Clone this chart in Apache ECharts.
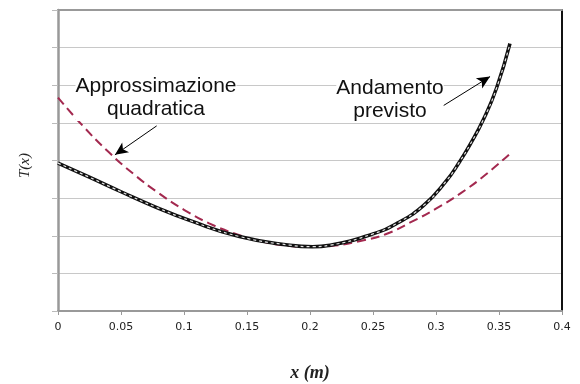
<!DOCTYPE html>
<html><head><meta charset="utf-8">
<script src="https://cdn.jsdelivr.net/npm/echarts@6/dist/echarts.min.js"></script>
<style>html,body{margin:0;padding:0;background:#fff}#c{width:580px;height:384px}</style>
</head><body><div id="c"></div>
<script>
// Data (y in gridline units, 0..8)
var xTicks = [0, 0.05, 0.1, 0.15, 0.2, 0.25, 0.3, 0.35, 0.4];
var previstoX = [0, 0.024, 0.05, 0.077, 0.105, 0.144, 0.184, 0.202, 0.216, 0.25, 0.269, 0.29, 0.308, 0.319, 0.327, 0.3375, 0.348, 0.3587];
var previstoT = [3.93, 3.57, 3.17, 2.77, 2.40, 1.98, 1.75, 1.71, 1.75, 2.05, 2.33, 2.80, 3.45, 3.98, 4.42, 5.08, 5.92, 7.11];
var quadX = [0, 0.02, 0.04, 0.06, 0.08, 0.10, 0.12, 0.14, 0.16, 0.18, 0.20, 0.22, 0.24, 0.26, 0.28, 0.30, 0.32, 0.34, 0.36];
var quadT = [5.67, 4.91, 4.23, 3.64, 3.13, 2.69, 2.33, 2.06, 1.86, 1.74, 1.70, 1.74, 1.86, 2.04, 2.36, 2.72, 3.14, 3.64, 4.22];
var labelQuad = 'Approssimazione\nquadratica';
var labelPrev = 'Andamento\nprevisto';
var arrowQuad = [[0.0783, 4.92], [0.0452, 4.15]];
var arrowPrev = [[0.3045, 5.43], [0.3429, 6.23]];

function pairs(xs, ys){ return xs.map(function(x,i){ return [x, ys[i]]; }); }

var chart = echarts.init(document.getElementById('c'), null, {renderer:'canvas'});
chart.setOption({
  animation:false,
  grid:{left:58, right:18, top:10, bottom:73, containLabel:false, outerBoundsMode:'none'},
  xAxis:[{
    type:'value', min:0, max:0.4, interval:0.05, position:'bottom',
    axisLine:{show:true, onZero:false, lineStyle:{color:'#999', width:2}},
    axisTick:{show:true, length:4, lineStyle:{color:'#999'}},
    axisLabel:{color:'#222', fontSize:11, fontFamily:'DejaVu Sans', margin:11,
      customValues: xTicks, formatter:function(v){ return String(+v.toFixed(2)); }},
    splitLine:{show:false},
    name:'x (m)', nameLocation:'middle', nameGap:53,
    nameTextStyle:{fontFamily:'Liberation Serif', fontStyle:'italic', fontWeight:'bold', fontSize:18, color:'#222'}
  },{
    type:'value', min:0, max:0.4, position:'top',
    axisLine:{show:true, onZero:false, lineStyle:{color:'#999', width:2}},
    axisTick:{show:false}, axisLabel:{show:false}, splitLine:{show:false}
  }],
  yAxis:[{
    type:'value', min:0, max:8, interval:1, position:'left',
    axisLine:{show:true, onZero:false, lineStyle:{color:'#999', width:2.5}},
    axisTick:{show:true, length:6, lineStyle:{color:'#bbb'}},
    axisLabel:{show:false},
    splitLine:{show:true, lineStyle:{color:'#c8c8c8', width:1}},
    name:'T(x)', nameLocation:'middle', nameGap:25,
    nameTextStyle:{fontFamily:'Liberation Serif', fontStyle:'italic', fontSize:15, color:'#222', padding:[0,10,0,0]}
  },{
    type:'value', min:0, max:8, position:'right',
    axisLine:{show:true, onZero:false, lineStyle:{color:'#111', width:2}},
    axisTick:{show:false}, axisLabel:{show:false}, splitLine:{show:false}
  }],
  series:[
    {type:'line', data:pairs(quadX, quadT), smooth:true, symbol:'none',
     lineStyle:{color:'#a3294f', width:2, type:[9,5]}, z:3},
    {type:'line', data:pairs(previstoX, previstoT), smooth:0.5, symbol:'none',
     lineStyle:{color:'#111', width:3.5}, z:4},
    {type:'line', data:pairs(previstoX, previstoT), smooth:0.5, symbol:'none',
     lineStyle:{color:'#e4e4e4', width:1.2, type:[3,3]}, z:5,
     markLine:{silent:true, symbol:['none','arrow'], symbolSize:[9,13],
       lineStyle:{color:'#000', width:1, type:'solid'}, label:{show:false},
       data:[
         [{coord:arrowQuad[0]},{coord:arrowQuad[1]}],
         [{coord:arrowPrev[0]},{coord:arrowPrev[1]}]
       ]}
    }
  ],
  graphic:[
    {type:'text', x:156, y:75, z:10, style:{text:labelQuad, fontFamily:'Liberation Sans', fontSize:21, fill:'#111', textAlign:'center', lineHeight:23, backgroundColor:'#fff'}},
    {type:'text', x:390, y:77, z:10, style:{text:labelPrev, fontFamily:'Liberation Sans', fontSize:21, fill:'#111', textAlign:'center', lineHeight:23, backgroundColor:'#fff'}}
  ]
});
</script></body></html>
